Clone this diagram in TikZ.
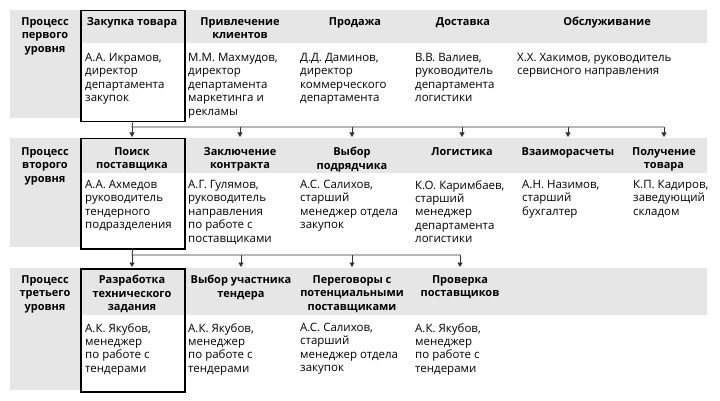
\documentclass[tikz,border=0pt]{standalone}
\usepackage{fontspec}
\setmainfont{Open Sans}
\usetikzlibrary{arrows.meta}
\definecolor{bandgray}{HTML}{E6E6E6}
\definecolor{linegray}{HTML}{333333}
\begin{document}
\begin{tikzpicture}[x=1pt,y=-1pt,
  hdr/.style={font=\fontsize{11}{13.6}\selectfont\bfseries, align=center, inner sep=0pt, anchor=north},
  body/.style={font=\fontsize{11.5}{13.4}\selectfont, align=left, inner sep=0pt, anchor=north west},
  boldbox/.style={draw=black, line width=1.5pt, anchor=north west, inner sep=0pt, minimum width=104pt},
  conn/.style={draw=linegray, line width=0.9pt},
  arr/.style={conn, -{Triangle[width=5pt,length=4.5pt]}}
]
\fill[white] (0,0) rectangle (720,401);
\useasboundingbox (0,0) rectangle (720,401);

% bands
\fill[bandgray] (10,10) rectangle (80,118);
\fill[bandgray] (80,10) rectangle (707,43);
\fill[bandgray] (10,138) rectangle (80,247);
\fill[bandgray] (80,138) rectangle (707,173);
\fill[bandgray] (10,268) rectangle (80,390);
\fill[bandgray] (80,268) rectangle (707,315);

% level labels
\node[hdr] (l1) at (45,17) {Процесс\\первого\\уровня};
\node[hdr] (l2) at (45,147) {Процесс\\второго\\уровня};
\node[hdr] (l3) at (45,275) {Процесс\\третьего\\уровня};

% bold boxes
\node[boldbox, minimum height=111pt] (box1) at (80,10) {};
\node[boldbox, minimum height=110pt] (box2) at (80,138) {};
\node[boldbox, minimum height=123pt] (box3) at (80,268) {};

% row 1
\node[hdr] (h11) at (132,17) {Закупка товара};
\node[hdr] (h12) at (240,17) {Привлечение\\клиентов};
\node[hdr] (h13) at (355,17) {Продажа};
\node[hdr] (h14) at (463,17) {Доставка};
\node[hdr] (h15) at (607,17) {Обслуживание};
\node[body] (b11) at (85,53) {А.А. Икрамов,\\директор\\департамента\\закупок};
\node[body] (b12) at (188,53) {М.М. Махмудов,\\директор\\департамента\\маркетинга и\\рекламы};
\node[body] (b13) at (300,53) {Д.Д. Даминов,\\директор\\коммерческого\\департамента};
\node[body] (b14) at (415,53) {В.В. Валиев,\\руководитель\\департамента\\логистики};
\node[body] (b15) at (517,53) {Х.Х. Хакимов, руководитель\\сервисного направления};

% row 2
\node[hdr] (h21) at (132,147) {Поиск\\поставщика};
\node[hdr] (h22) at (240,147) {Заключение\\контракта};
\node[hdr] (h23) at (352,147) {Выбор\\подрядчика};
\node[hdr] (h24) at (462,147) {Логистика};
\node[hdr] (h25) at (568,147) {Взаиморасчеты};
\node[hdr] (h26) at (664,147) {Получение\\товара};
\node[body] (b21) at (85,180) {А.А. Ахмедов\\руководитель\\тендерного\\подразделения};
\node[body] (b22) at (188,180) {А.Г. Гулямов,\\руководитель\\направления\\по работе с\\поставщиками};
\node[body] (b23) at (300,180) {А.С. Салихов,\\старший\\менеджер отдела\\закупок};
\node[body] (b24) at (415,180) {К.О. Каримбаев,\\старший\\менеджер\\департамента\\логистики};
\node[body] (b25) at (522,180) {А.Н. Назимов,\\старший\\бухгалтер};
\node[body] (b26) at (633,180) {К.П. Кадиров,\\заведующий\\складом};

% row 3
\node[hdr] (h31) at (132,275) {Разработка\\технического\\задания};
\node[hdr] (h32) at (241,275) {Выбор участника\\тендера};
\node[hdr] (h33) at (352,275) {Переговоры с\\потенциальными\\поставщиками};
\node[hdr] (h34) at (460,275) {Проверка\\поставщиков};
\node[body] (b31) at (85,323) {А.К. Якубов,\\менеджер\\по работе с\\тендерами};
\node[body] (b32) at (188,323) {А.К. Якубов,\\менеджер\\по работе с\\тендерами};
\node[body] (b33) at (300,323) {А.С. Салихов,\\старший\\менеджер отдела\\закупок};
\node[body] (b34) at (415,323) {А.К. Якубов,\\менеджер\\по работе с\\тендерами};

% connectors level 1 -> 2
\coordinate (j1) at (132,127);
\coordinate (t2) at (80,137);
\draw[conn] (box1.south) -- (j1) -- (j1 -| h26.north);
\foreach \c in {1,...,6}{
  \draw[arr] (j1 -| h2\c.north) -- (t2 -| h2\c.north);
}
% connectors level 2 -> 3
\coordinate (j2) at (132,255);
\coordinate (t3) at (80,267);
\draw[conn] (box2.south) -- (j2) -- (j2 -| h34.north);
\foreach \c in {1,...,4}{
  \draw[arr] (j2 -| h3\c.north) -- (t3 -| h3\c.north);
}
\end{tikzpicture}
\end{document}
